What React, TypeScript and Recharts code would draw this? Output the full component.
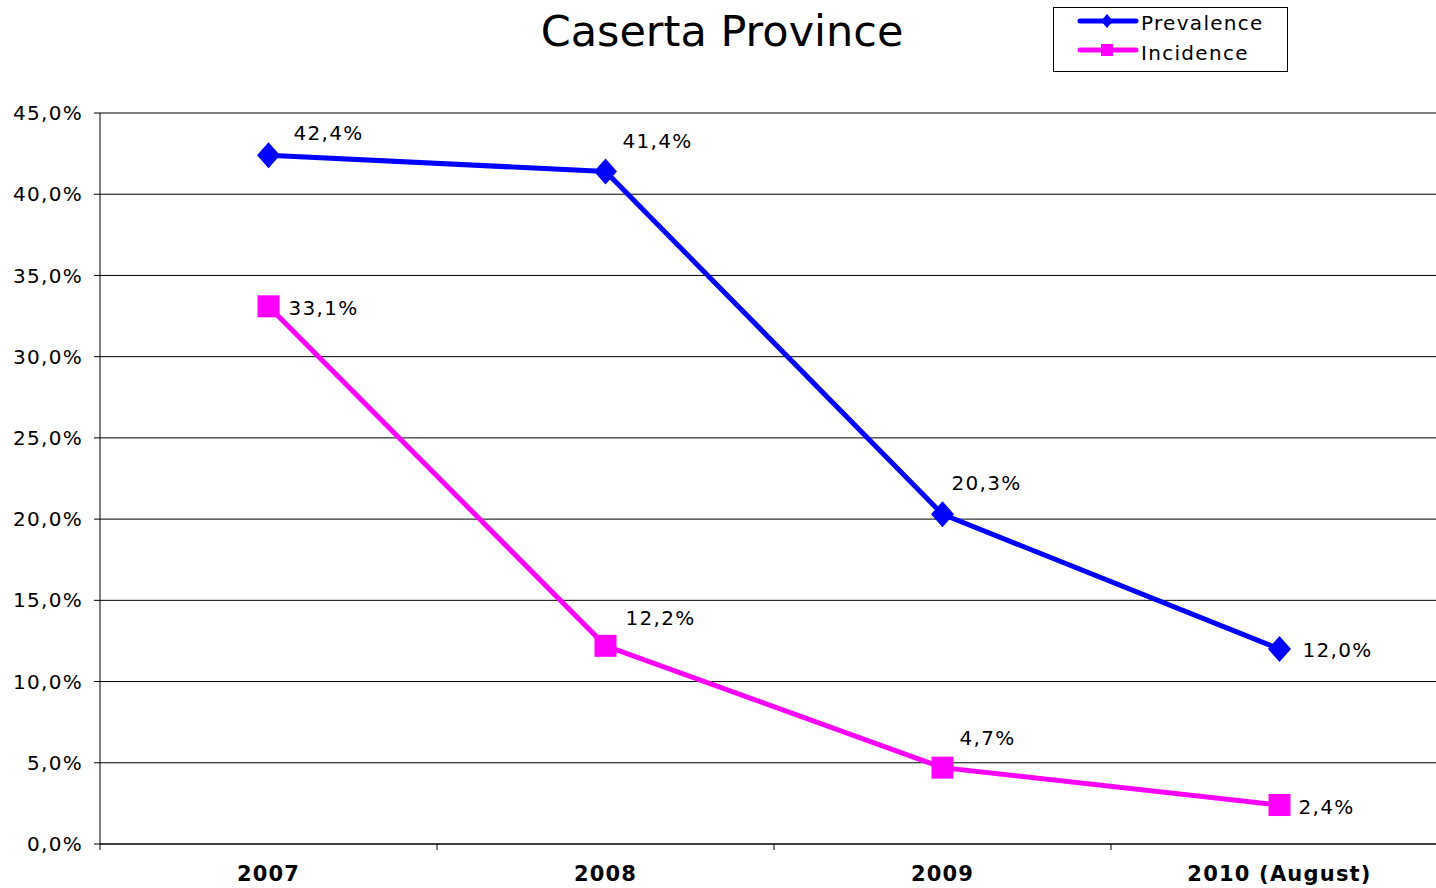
import React from 'react';
import { LineChart, Line, XAxis, YAxis, CartesianGrid, LabelList } from 'recharts';

const years = ['2007', '2008', '2009', '2010 (August)'];
const prevalence = [42.4, 41.4, 20.3, 12.0];
const incidence = [33.1, 12.2, 4.7, 2.4];
const yTicks = [0, 5, 10, 15, 20, 25, 30, 35, 40, 45];

// label offsets from each point
const prevOffsets = [[25, -22], [17, -30], [9, -31], [23, 1]];
const incOffsets = [[20, 2], [20, -28], [17, -30], [19, 2]];

const FONT = '"DejaVu Sans", Verdana, sans-serif';
const W = 1448;
const H = 888;
const LEFT = 100;
const BAND = (W - LEFT) / years.length;

const data = years.map((y, i) => ({ year: y, prev: prevalence[i], inc: incidence[i] }));

const fmt = (v: number) => v.toFixed(1).replace('.', ',') + '%';

function Diamond(props: any) {
  const { cx, cy } = props;
  if (cx == null || cy == null) return null;
  return <polygon points={`${cx},${cy - 13} ${cx + 11.5},${cy} ${cx},${cy + 13} ${cx - 11.5},${cy}`} fill="#0000ff" />;
}

function Square(props: any) {
  const { cx, cy } = props;
  if (cx == null || cy == null) return null;
  return <rect x={cx - 11} y={cy - 11} width={22} height={22} fill="#ff00ff" />;
}

const makeLabel = (offsets: number[][]) => (props: any) => {
  const { x, y, value, index } = props;
  const [dx, dy] = offsets[index];
  return (
    <text x={x + dx} y={y + dy} dy="0.35em" fontSize={20} letterSpacing={1.3} fontFamily={FONT} fill="#000">
      {fmt(value)}
    </text>
  );
};

function XTick(props: any) {
  const { x, index, payload } = props;
  return (
    <g>
      <line x1={x - BAND / 2} y1={844} x2={x - BAND / 2} y2={850} stroke="#000" />
      {index === years.length - 1 && <line x1={x + BAND / 2} y1={844} x2={x + BAND / 2} y2={850} stroke="#000" />}
      <text x={x} y={881} textAnchor="middle" fontSize={21} fontWeight="bold" letterSpacing={1.2} fontFamily={FONT} fill="#000">
        {payload.value}
      </text>
    </g>
  );
}

export default function App() {
  return (
    <div style={{ position: 'absolute', left: 0, top: 0, width: 1436, height: 888, overflow: 'hidden', background: '#fff' }}>
      <LineChart width={W} height={H} data={data} margin={{ top: 113, right: 0, bottom: 0, left: 0 }}>
        <CartesianGrid vertical={false} stroke="#000" strokeWidth={1} />
        <XAxis
          dataKey="year"
          height={44}
          padding={{ left: BAND / 2, right: BAND / 2 }}
          axisLine={{ stroke: '#000' }}
          tickLine={false}
          tick={<XTick />}
          interval={0}
        />
        <YAxis
          width={LEFT}
          domain={[0, 45]}
          ticks={yTicks}
          interval={0}
          axisLine={{ stroke: '#000' }}
          tickLine={{ stroke: '#000' }}
          tickSize={6}
          tickMargin={11}
          tickFormatter={fmt}
          tick={{ fill: '#000', fontSize: 20, fontFamily: FONT, letterSpacing: 1.3 }}
        />
        <Line
          dataKey="prev"
          stroke="#0000ff"
          strokeWidth={5}
          dot={<Diamond />}
          activeDot={false}
          isAnimationActive={false}
        >
          <LabelList dataKey="prev" content={makeLabel(prevOffsets)} />
        </Line>
        <Line
          dataKey="inc"
          stroke="#ff00ff"
          strokeWidth={5}
          dot={<Square />}
          activeDot={false}
          isAnimationActive={false}
        >
          <LabelList dataKey="inc" content={makeLabel(incOffsets)} />
        </Line>
      </LineChart>
      <svg width={1436} height={100} style={{ position: 'absolute', left: 0, top: 0, pointerEvents: 'none' }}>
        <text x={722} y={46} textAnchor="middle" fontSize={43} fontFamily={FONT} fill="#000">
          Caserta Province
        </text>
        <rect x={1053.5} y={7.5} width={234} height={64} fill="#fff" stroke="#000" />
        <line x1={1080} y1={21} x2={1136} y2={21} stroke="#0000ff" strokeWidth={5} strokeLinecap="round" />
        <polygon points="1107,14 1113,21 1107,28 1101,21" fill="#0000ff" />
        <text x={1141} y={30} fontSize={20} letterSpacing={1.3} fontFamily={FONT} fill="#000">Prevalence</text>
        <line x1={1080} y1={50} x2={1136} y2={50} stroke="#ff00ff" strokeWidth={5} strokeLinecap="round" />
        <rect x={1101} y={44} width={12} height={12} fill="#ff00ff" />
        <text x={1141} y={60} fontSize={20} letterSpacing={1.3} fontFamily={FONT} fill="#000">Incidence</text>
      </svg>
    </div>
  );
}
